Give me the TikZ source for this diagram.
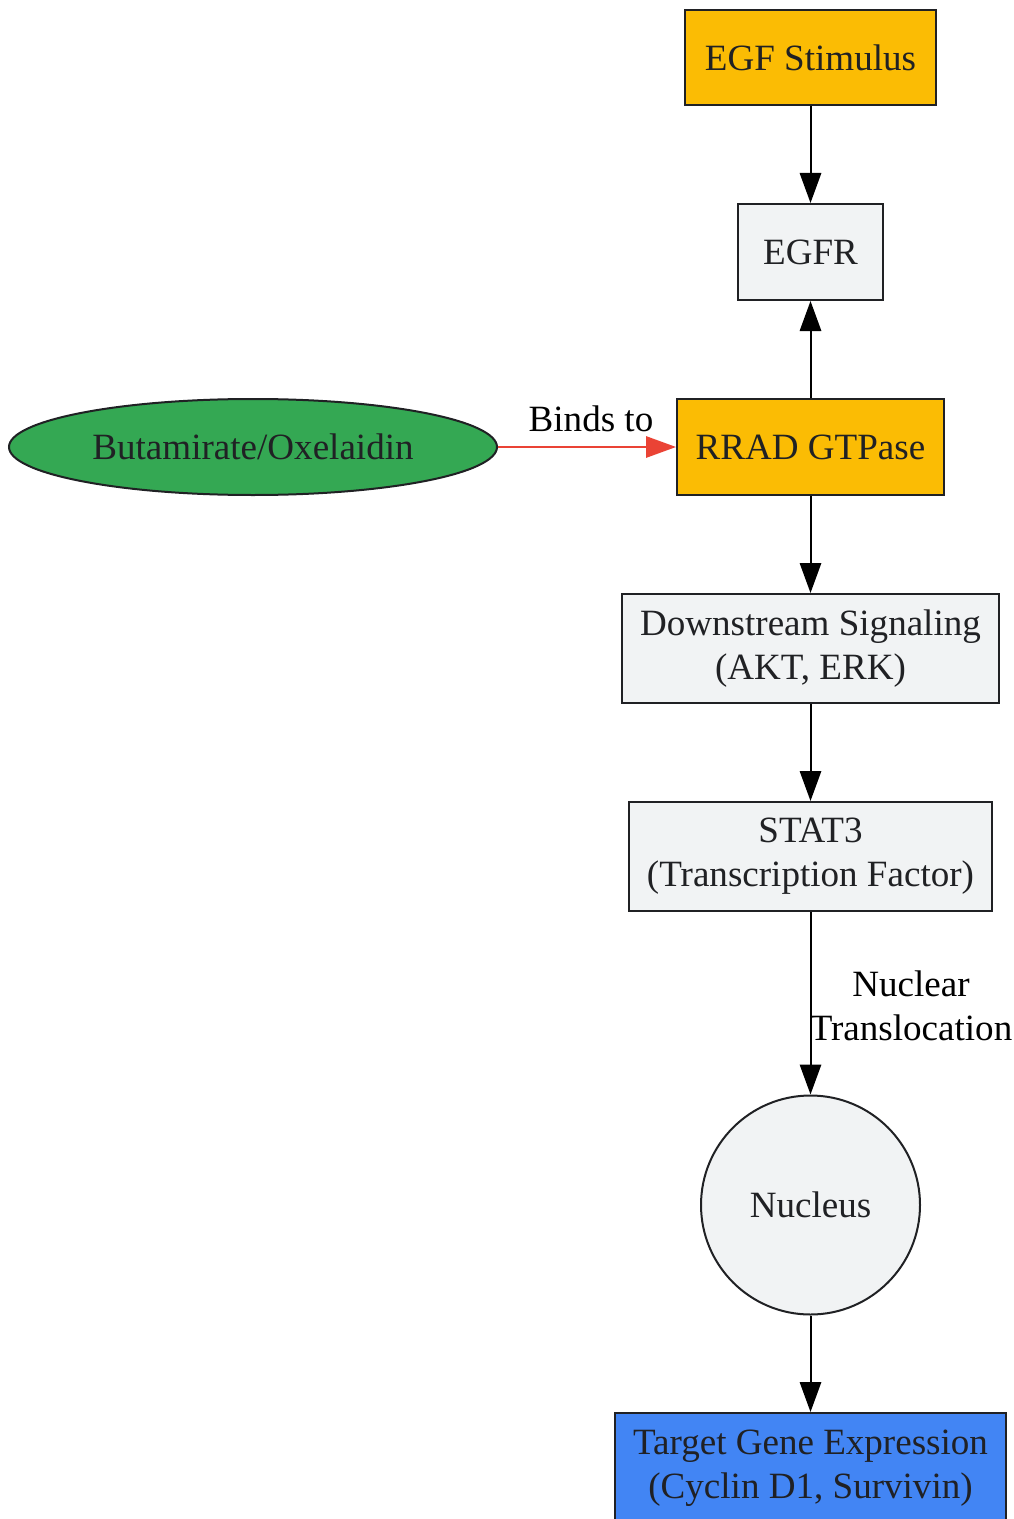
\documentclass[tikz,border=0pt]{standalone}
\usepackage{fontspec}
\setmainfont{Liberation Serif}
\usetikzlibrary{arrows.meta,shapes.geometric}
\definecolor{gyellow}{HTML}{FBBC04}
\definecolor{ggray}{HTML}{F1F3F4}
\definecolor{ggreen}{HTML}{34A853}
\definecolor{gblue}{HTML}{4285F4}
\definecolor{gred}{HTML}{EA4335}
\definecolor{gtext}{HTML}{202124}
\tikzset{
  box/.style={draw=gtext,line width=1.5pt,text=gtext,inner sep=0pt,align=center,
    font=\fontsize{27.8}{33}\selectfont},
  conn/.style={line width=1.5pt,-{Triangle[length=22.5pt,width=16pt]}},
  elab/.style={font=\fontsize{27.8}{33}\selectfont,text=black,align=center}
}
\begin{document}
\begin{tikzpicture}[x=0.75pt,y=-0.75pt]
\useasboundingbox (0,0) rectangle (1013,1519);
\node[box,fill=gyellow,minimum width=188.25pt,minimum height=71.25pt] (egf) at (810.5,57.5) {EGF Stimulus};
\node[box,fill=ggray,minimum width=108.75pt,minimum height=72pt] (egfr) at (810.5,252) {EGFR};
\node[box,fill=gyellow,minimum width=200.25pt,minimum height=72pt] (rrad) at (810.5,447) {RRAD GTPase};
\node[box,ellipse,fill=ggreen,minimum width=366pt,minimum height=72pt] (drug) at (253,447) {Butamirate/Oxelaidin};
\node[box,fill=ggray,minimum width=282.75pt,minimum height=81.75pt] (down) at (810.5,648.5) {Downstream Signaling\\(AKT, ERK)};
\node[box,fill=ggray,minimum width=272.25pt,minimum height=81.75pt] (stat) at (810.5,856.5) {STAT3\\(Transcription Factor)};
\node[box,circle,fill=ggray,minimum size=164.25pt] (nuc) at (810.5,1205) {Nucleus};
\node[box,fill=gblue,minimum width=293.25pt,minimum height=82.5pt] (target) at (810.5,1468) {Target Gene Expression\\(Cyclin D1, Survivin)};

\draw[conn] (egf) -- (egfr);
\draw[conn] (rrad) -- (egfr);
\draw[conn,draw=gred,-{Triangle[length=22.5pt,width=16pt,color=gred]}] (drug) -- (rrad);
\node[elab] (lb1) at (591,419) {Binds to};
\draw[conn] (rrad) -- (down);
\draw[conn] (down) -- (stat);
\draw[conn] (stat) -- (nuc);
\node[elab] (lb2) at (911,1006) {Nuclear\\Translocation};
\draw[conn] (nuc) -- (target);
\end{tikzpicture}
\end{document}
